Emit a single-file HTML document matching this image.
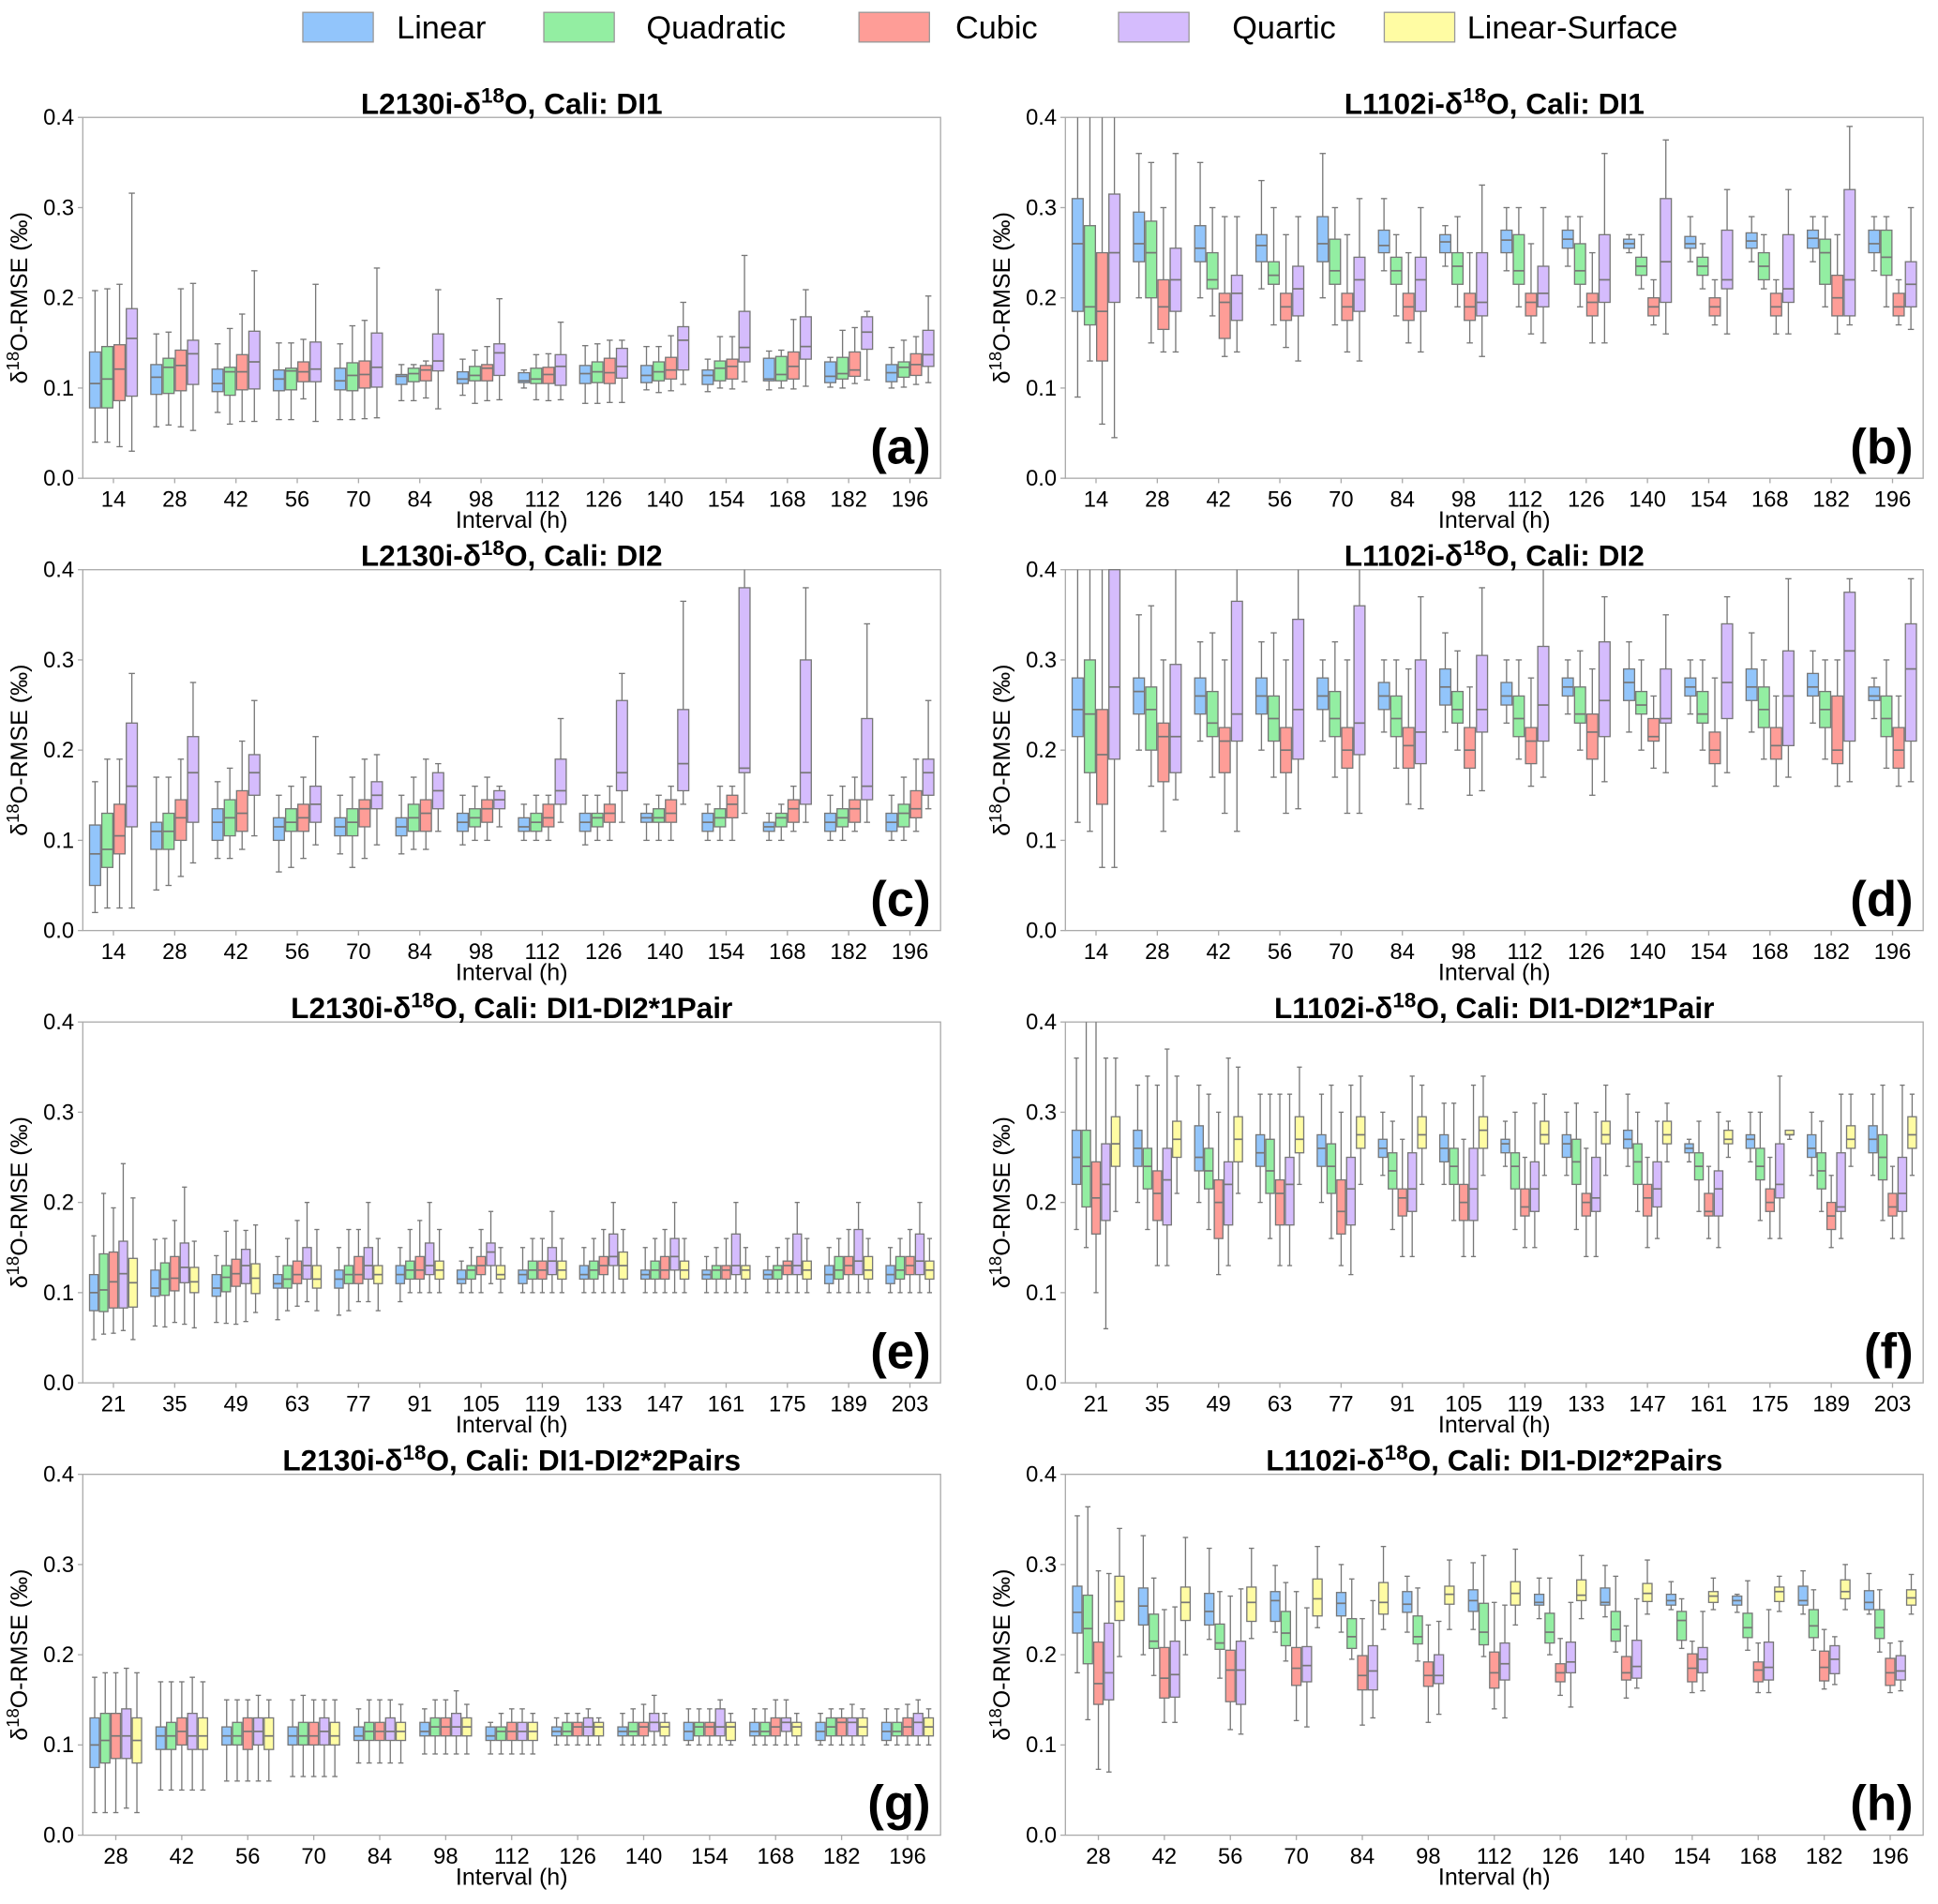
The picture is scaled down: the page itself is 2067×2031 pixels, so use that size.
<!DOCTYPE html>
<html><head><meta charset="utf-8"><style>
html,body{margin:0;padding:0;background:#fff}
svg{display:block}
text{font-family:"Liberation Sans",sans-serif}
</style></head><body>
<svg id="chart" xmlns="http://www.w3.org/2000/svg" width="2067" height="2031" viewBox="0 0 1568 1540.7" preserveAspectRatio="none">
<g id="legend">
<g><rect x="245" y="10" width="57" height="24" fill="#92c5fb" stroke="#999"/><text x="321" y="31" font-size="26">Linear</text></g>
<g><rect x="440" y="10" width="57" height="24" fill="#93eea2" stroke="#999"/><text x="523" y="31" font-size="26">Quadratic</text></g>
<g><rect x="695" y="10" width="57" height="24" fill="#fe9d97" stroke="#999"/><text x="773" y="31" font-size="26">Cubic</text></g>
<g><rect x="905" y="10" width="57" height="24" fill="#d5bcfd" stroke="#999"/><text x="997" y="31" font-size="26">Quartic</text></g>
<g><rect x="1120" y="10" width="57" height="24" fill="#fffca3" stroke="#999"/><text x="1187" y="31" font-size="26">Linear-Surface</text></g>
</g>
</svg>
<script>
const seriesColors = ["#92c5fb","#93eea2","#fe9d97","#d5bcfd","#fffca3"];
const yTicks = [0.0,0.1,0.2,0.3,0.4];
const cats14a = ["14","28","42","56","70","84","98","112","126","140","154","168","182","196"];
const cats14e = ["21","35","49","63","77","91","105","119","133","147","161","175","189","203"];
const cats13 = ["28","42","56","70","84","98","112","126","140","154","168","182","196"];

// panel a
const aMed=[[.105,.112,.105,.11,.108,.113,.11,.108,.116,.114,.114,.11,.113,.117],[.11,.123,.118,.119,.114,.116,.114,.11,.118,.118,.122,.115,.116,.123],[.121,.125,.118,.118,.115,.12,.122,.115,.117,.12,.124,.124,.12,.126],[.155,.138,.129,.121,.123,.13,.139,.124,.124,.153,.145,.146,.162,.137]];
const aQ1=[[.078,.093,.096,.097,.098,.104,.105,.106,.105,.106,.104,.108,.106,.107],[.078,.094,.092,.098,.097,.107,.108,.105,.106,.108,.108,.108,.11,.112],[.086,.097,.098,.107,.1,.108,.108,.105,.105,.11,.11,.11,.113,.114],[.091,.104,.099,.107,.101,.119,.114,.103,.111,.12,.129,.132,.143,.124]];
const aQ3=[[.14,.126,.121,.12,.122,.115,.118,.117,.125,.125,.12,.133,.129,.126],[.146,.133,.123,.122,.128,.122,.124,.122,.129,.129,.13,.135,.134,.129],[.148,.142,.137,.129,.13,.125,.126,.123,.133,.134,.132,.14,.14,.138],[.188,.153,.163,.151,.161,.16,.149,.137,.144,.168,.185,.179,.179,.164]];
const aLo=[[.04,.057,.073,.065,.065,.086,.092,.1,.083,.098,.096,.098,.101,.1],[.04,.059,.06,.065,.065,.086,.083,.087,.083,.095,.1,.1,.1,.101],[.035,.057,.063,.088,.066,.089,.086,.086,.084,.097,.099,.099,.105,.104],[.03,.053,.063,.063,.067,.077,.087,.087,.084,.104,.107,.102,.109,.106]];
const aHi=[[.208,.16,.149,.15,.149,.126,.132,.12,.147,.146,.132,.141,.134,.145],[.21,.162,.166,.15,.169,.126,.142,.137,.149,.146,.157,.142,.164,.153],[.215,.21,.182,.154,.175,.13,.146,.138,.153,.158,.157,.176,.167,.157],[.316,.216,.23,.215,.233,.209,.199,.173,.153,.195,.247,.209,.185,.202]];
// panel b
const bMed=[[.26,.26,.255,.258,.26,.258,.262,.264,.265,.26,.26,.263,.266,.26],[.19,.25,.22,.225,.23,.23,.235,.23,.23,.235,.235,.235,.25,.245],[.185,.19,.195,.19,.19,.19,.19,.195,.195,.19,.19,.19,.2,.19],[.25,.22,.205,.21,.22,.22,.195,.205,.22,.24,.22,.21,.22,.215]];
const bQ1=[[.185,.24,.24,.24,.24,.25,.25,.25,.255,.255,.255,.255,.255,.25],[.17,.2,.21,.215,.215,.215,.215,.215,.215,.225,.225,.22,.215,.225],[.13,.165,.155,.175,.175,.175,.175,.18,.18,.18,.18,.18,.18,.18],[.195,.185,.175,.18,.185,.185,.18,.19,.195,.195,.21,.195,.18,.19]];
const bQ3=[[.31,.295,.28,.27,.29,.275,.27,.275,.275,.265,.268,.272,.275,.275],[.28,.285,.25,.24,.265,.245,.25,.27,.26,.245,.245,.25,.265,.275],[.25,.22,.205,.205,.205,.205,.205,.205,.205,.2,.2,.205,.225,.205],[.315,.255,.225,.235,.245,.245,.25,.235,.27,.31,.275,.27,.32,.24]];
const bLo=[[.09,.2,.2,.21,.2,.23,.235,.23,.235,.25,.24,.24,.24,.23],[.13,.15,.18,.17,.17,.18,.19,.19,.19,.21,.21,.21,.19,.19],[.06,.14,.135,.145,.14,.15,.15,.16,.15,.17,.17,.16,.16,.17],[.045,.14,.14,.13,.13,.14,.135,.15,.15,.16,.16,.16,.17,.165]];
const bHi=[[.4,.36,.35,.33,.36,.31,.28,.3,.29,.27,.29,.29,.29,.29],[.4,.35,.3,.3,.3,.27,.29,.3,.29,.27,.26,.27,.29,.29],[.4,.3,.29,.27,.27,.25,.25,.26,.25,.22,.22,.22,.27,.22],[.4,.36,.29,.29,.31,.3,.325,.3,.36,.375,.32,.32,.39,.3]];
// panel c
const cMed=[[.085,.11,.12,.115,.115,.115,.12,.115,.12,.125,.12,.115,.12,.12],[.09,.11,.125,.12,.12,.125,.125,.12,.125,.125,.125,.125,.125,.13],[.105,.125,.13,.125,.135,.13,.135,.125,.13,.13,.14,.135,.135,.135],[.16,.175,.175,.14,.15,.155,.145,.155,.175,.185,.18,.175,.16,.175]];
const cQ1=[[.05,.09,.1,.1,.105,.105,.11,.11,.11,.12,.11,.11,.11,.11],[.07,.09,.105,.11,.105,.11,.115,.11,.115,.12,.115,.115,.115,.115],[.085,.1,.11,.11,.115,.11,.12,.115,.12,.12,.125,.12,.12,.125],[.115,.12,.15,.12,.135,.135,.135,.14,.155,.155,.175,.14,.145,.15]];
const cQ3=[[.117,.12,.135,.125,.125,.125,.13,.125,.13,.13,.13,.12,.13,.13],[.13,.13,.145,.135,.135,.14,.135,.13,.13,.135,.135,.13,.135,.14],[.14,.145,.155,.14,.145,.145,.145,.14,.14,.145,.15,.145,.145,.155],[.23,.215,.195,.16,.165,.175,.155,.19,.255,.245,.38,.3,.235,.19]];
const cLo=[[.02,.045,.08,.065,.085,.085,.095,.1,.095,.1,.1,.1,.1,.1],[.025,.05,.08,.07,.07,.09,.1,.1,.1,.1,.1,.1,.1,.1],[.025,.06,.09,.08,.08,.09,.1,.1,.1,.1,.1,.11,.11,.11],[.025,.075,.105,.095,.095,.11,.115,.12,.12,.14,.13,.12,.12,.135]];
const cHi=[[.165,.17,.165,.15,.15,.15,.15,.14,.15,.14,.14,.13,.15,.15],[.19,.17,.18,.16,.17,.17,.16,.15,.15,.15,.16,.14,.16,.17],[.19,.19,.21,.17,.19,.19,.17,.15,.16,.16,.16,.16,.17,.19],[.285,.275,.255,.215,.195,.185,.16,.235,.285,.365,.4,.38,.34,.255]];
// panel d
const dMed=[[.245,.265,.26,.26,.26,.26,.27,.26,.27,.275,.27,.27,.27,.26],[.24,.245,.23,.235,.235,.235,.245,.235,.24,.25,.24,.245,.245,.235],[.195,.215,.21,.2,.2,.205,.2,.21,.22,.215,.2,.205,.2,.2],[.27,.215,.24,.245,.23,.22,.245,.25,.255,.235,.275,.26,.31,.29]];
const dQ1=[[.215,.24,.24,.24,.245,.245,.25,.25,.26,.255,.26,.255,.26,.255],[.175,.2,.215,.21,.215,.215,.23,.215,.23,.24,.23,.225,.225,.215],[.14,.165,.175,.175,.18,.18,.18,.185,.19,.21,.185,.19,.185,.18],[.19,.175,.21,.19,.195,.185,.22,.21,.215,.23,.235,.205,.21,.21]];
const dQ3=[[.28,.28,.28,.28,.28,.275,.29,.275,.28,.29,.28,.29,.285,.27],[.3,.27,.265,.26,.265,.26,.265,.26,.27,.265,.265,.27,.265,.26],[.245,.23,.225,.225,.225,.225,.225,.225,.24,.235,.22,.225,.26,.225],[.4,.295,.365,.345,.36,.3,.305,.315,.32,.29,.34,.31,.375,.34]];
const dLo=[[.12,.2,.21,.2,.21,.22,.22,.23,.24,.22,.24,.22,.23,.235],[.11,.16,.17,.17,.17,.18,.2,.19,.2,.2,.2,.19,.19,.18],[.07,.11,.13,.13,.13,.14,.15,.16,.15,.18,.16,.16,.16,.16],[.07,.145,.11,.135,.13,.135,.155,.17,.165,.175,.175,.17,.165,.165]];
const dHi=[[.4,.35,.32,.32,.3,.3,.33,.3,.3,.32,.3,.33,.31,.28],[.4,.36,.33,.33,.32,.3,.31,.3,.31,.3,.3,.3,.3,.3],[.4,.3,.3,.3,.3,.29,.27,.28,.29,.26,.28,.26,.3,.26],[.4,.4,.4,.4,.4,.37,.38,.4,.37,.35,.37,.39,.39,.39]];
// panel e
const eMed=[[.1,.105,.105,.11,.115,.12,.115,.12,.12,.12,.12,.12,.12,.12],[.103,.115,.117,.115,.12,.125,.125,.125,.125,.125,.125,.125,.125,.125],[.112,.116,.121,.12,.12,.125,.13,.125,.13,.125,.125,.13,.13,.13],[.121,.128,.13,.13,.13,.13,.145,.135,.14,.14,.13,.13,.135,.135],[.111,.112,.116,.115,.12,.125,.12,.125,.13,.125,.125,.125,.125,.125]];
const eQ1=[[.08,.096,.096,.105,.105,.11,.11,.11,.115,.115,.115,.115,.11,.11],[.079,.097,.101,.105,.11,.115,.115,.115,.115,.115,.115,.115,.115,.115],[.083,.102,.107,.11,.11,.115,.12,.115,.12,.115,.115,.12,.12,.12],[.083,.111,.11,.115,.115,.12,.13,.12,.13,.125,.12,.12,.12,.12],[.084,.1,.099,.105,.11,.115,.115,.115,.115,.115,.115,.115,.115,.115]];
const eQ3=[[.12,.125,.12,.12,.125,.13,.125,.125,.13,.125,.125,.125,.13,.13],[.143,.133,.13,.13,.13,.135,.13,.135,.135,.135,.13,.13,.14,.14],[.145,.14,.137,.135,.14,.14,.14,.135,.14,.14,.13,.135,.14,.14],[.157,.155,.148,.15,.15,.155,.155,.15,.165,.16,.165,.165,.17,.165],[.138,.128,.132,.13,.13,.135,.13,.135,.145,.135,.13,.135,.14,.135]];
const eLo=[[.048,.063,.067,.07,.075,.09,.1,.1,.1,.1,.1,.1,.1,.1],[.054,.062,.066,.08,.08,.1,.1,.1,.1,.1,.1,.1,.1,.1],[.055,.067,.065,.085,.09,.1,.1,.1,.1,.1,.1,.1,.1,.1],[.058,.065,.068,.09,.09,.1,.11,.1,.1,.1,.1,.1,.1,.1],[.048,.061,.078,.08,.08,.1,.1,.1,.1,.1,.1,.1,.1,.1]];
const eHi=[[.163,.159,.141,.14,.15,.15,.135,.15,.15,.15,.14,.14,.15,.15],[.21,.16,.168,.16,.17,.17,.15,.16,.16,.16,.15,.15,.16,.16],[.194,.18,.18,.18,.17,.18,.17,.16,.17,.17,.16,.16,.17,.17],[.243,.217,.169,.2,.2,.2,.19,.19,.2,.2,.2,.2,.2,.2],[.205,.157,.175,.17,.16,.17,.15,.16,.17,.16,.15,.16,.16,.16]];
// panel f
const fMed=[[.25,.26,.25,.255,.26,.26,.26,.265,.265,.27,.26,.27,.26,.27],[.24,.24,.235,.235,.24,.235,.24,.24,.245,.245,.24,.24,.235,.25],[.205,.21,.2,.21,.19,.205,.2,.195,.2,.205,.19,.2,.185,.195],[.22,.225,.22,.22,.215,.215,.215,.215,.205,.215,.215,.22,.195,.21],[.265,.27,.27,.27,.275,.275,.28,.275,.275,.275,.27,.275,.27,.275]];
const fQ1=[[.22,.24,.235,.24,.24,.25,.245,.255,.25,.26,.255,.26,.25,.255],[.195,.215,.215,.21,.21,.215,.22,.215,.22,.22,.225,.225,.215,.225],[.165,.18,.16,.175,.165,.185,.18,.185,.185,.185,.185,.19,.17,.185],[.18,.175,.175,.175,.175,.19,.18,.19,.19,.195,.185,.205,.19,.19],[.24,.25,.245,.255,.26,.26,.26,.265,.265,.265,.265,.275,.26,.26]];
const fQ3=[[.28,.28,.285,.275,.275,.27,.275,.27,.275,.28,.265,.275,.275,.285],[.28,.26,.26,.27,.265,.255,.26,.255,.27,.265,.255,.26,.255,.275],[.245,.235,.225,.225,.225,.215,.22,.215,.21,.22,.21,.215,.2,.21],[.265,.26,.245,.25,.25,.255,.26,.245,.25,.245,.235,.265,.255,.25],[.295,.29,.295,.295,.295,.295,.295,.29,.29,.29,.28,.28,.285,.295]];
const fLo=[[.17,.2,.2,.2,.2,.23,.22,.24,.23,.24,.245,.245,.23,.23],[.15,.17,.17,.16,.16,.17,.18,.17,.17,.19,.19,.18,.19,.18],[.1,.13,.12,.13,.13,.14,.14,.15,.14,.15,.16,.16,.15,.16],[.06,.13,.13,.13,.12,.14,.14,.15,.14,.16,.15,.16,.16,.16],[.19,.21,.21,.22,.22,.22,.23,.23,.23,.245,.25,.27,.24,.23]];
const fHi=[[.36,.33,.33,.32,.32,.3,.31,.29,.3,.32,.27,.3,.3,.32],[.4,.34,.32,.32,.33,.29,.31,.3,.31,.3,.29,.3,.29,.33],[.4,.33,.3,.32,.3,.27,.27,.25,.26,.25,.24,.25,.23,.24],[.36,.37,.36,.32,.33,.34,.33,.31,.3,.29,.3,.34,.32,.33],[.36,.34,.35,.35,.34,.33,.34,.32,.33,.31,.29,.28,.32,.32]];
// panel g
const gMed=[[.1,.11,.11,.11,.11,.115,.11,.115,.115,.115,.115,.115,.115],[.105,.11,.11,.11,.115,.12,.115,.115,.115,.12,.115,.12,.115],[.11,.115,.115,.11,.115,.12,.115,.12,.12,.12,.12,.125,.12],[.11,.11,.115,.115,.115,.12,.115,.12,.125,.12,.125,.125,.125],[.105,.11,.11,.11,.115,.12,.115,.12,.12,.12,.12,.12,.12]];
const gQ1=[[.075,.095,.1,.1,.105,.11,.105,.11,.11,.105,.11,.105,.105],[.08,.095,.1,.1,.105,.11,.105,.11,.11,.11,.11,.11,.11],[.085,.1,.095,.1,.105,.11,.105,.11,.11,.11,.11,.11,.11],[.085,.095,.1,.1,.105,.11,.105,.11,.115,.11,.115,.11,.11],[.08,.095,.095,.1,.105,.11,.105,.11,.11,.105,.11,.11,.11]];
const gQ3=[[.13,.12,.12,.12,.12,.125,.12,.12,.12,.125,.125,.125,.125],[.135,.125,.125,.125,.125,.13,.12,.125,.125,.125,.125,.13,.125],[.135,.13,.13,.125,.125,.13,.125,.125,.125,.125,.13,.13,.13],[.14,.135,.13,.13,.13,.135,.125,.13,.135,.14,.13,.13,.135],[.13,.13,.13,.125,.125,.13,.125,.125,.125,.125,.125,.13,.13]];
const gLo=[[.025,.05,.06,.065,.08,.09,.09,.1,.1,.1,.1,.1,.1],[.025,.05,.06,.065,.08,.09,.09,.1,.1,.1,.1,.1,.1],[.025,.05,.06,.065,.08,.09,.09,.1,.1,.1,.1,.1,.1],[.03,.05,.06,.065,.08,.09,.09,.1,.1,.1,.1,.1,.1],[.025,.05,.06,.065,.08,.09,.09,.1,.1,.1,.1,.1,.1]];
const gHi=[[.175,.17,.15,.15,.14,.14,.125,.13,.135,.14,.14,.135,.14],[.18,.17,.15,.155,.15,.15,.135,.135,.14,.14,.14,.14,.14],[.18,.17,.15,.15,.15,.15,.14,.135,.145,.14,.15,.14,.145],[.185,.175,.155,.15,.15,.16,.14,.14,.155,.15,.15,.145,.15],[.18,.17,.15,.15,.145,.145,.135,.13,.135,.135,.135,.14,.14]];
// panel h
const hMed=[[.247,.254,.248,.26,.257,.256,.26,.258,.258,.26,.26,.26,.258],[.229,.215,.213,.224,.22,.22,.225,.225,.228,.238,.23,.232,.23],[.168,.174,.183,.185,.177,.177,.18,.18,.18,.185,.183,.186,.18],[.18,.178,.183,.188,.182,.177,.19,.192,.187,.195,.186,.195,.182],[.259,.258,.258,.262,.258,.267,.268,.266,.268,.265,.27,.27,.263]];
const hQ1=[[.224,.233,.233,.237,.243,.247,.248,.255,.255,.255,.255,.255,.25],[.19,.207,.206,.21,.207,.212,.211,.213,.215,.216,.219,.219,.218],[.145,.152,.148,.166,.161,.165,.163,.17,.172,.17,.17,.171,.166],[.15,.153,.145,.17,.161,.168,.172,.18,.174,.18,.172,.179,.172],[.238,.238,.237,.243,.245,.256,.255,.26,.259,.258,.259,.262,.255]];
const hQ3=[[.276,.274,.268,.27,.269,.27,.272,.267,.274,.267,.265,.276,.271],[.266,.245,.234,.248,.24,.243,.257,.246,.248,.248,.246,.25,.25],[.214,.208,.205,.208,.199,.192,.203,.19,.198,.201,.192,.204,.196],[.235,.215,.215,.209,.21,.2,.213,.214,.216,.208,.214,.21,.199],[.287,.275,.275,.284,.28,.276,.281,.283,.279,.27,.275,.283,.272]];
const hLo=[[.18,.2,.217,.225,.225,.225,.228,.24,.242,.25,.247,.245,.245],[.128,.177,.174,.193,.195,.193,.198,.2,.203,.207,.205,.205,.203],[.073,.125,.117,.127,.122,.125,.14,.155,.152,.158,.158,.162,.158],[.07,.125,.112,.12,.13,.134,.13,.142,.163,.16,.158,.167,.16],[.198,.2,.218,.23,.228,.228,.233,.24,.245,.25,.248,.25,.245]];
const hHi=[[.354,.332,.318,.299,.3,.287,.302,.285,.299,.281,.267,.293,.29],[.364,.285,.27,.28,.284,.274,.31,.285,.287,.262,.282,.272,.272],[.293,.25,.265,.27,.24,.233,.258,.218,.232,.215,.213,.228,.213],[.29,.253,.273,.252,.26,.237,.255,.258,.262,.248,.25,.22,.215],[.34,.33,.318,.32,.32,.305,.317,.31,.305,.285,.287,.3,.289]];

const NS="http://www.w3.org/2000/svg";
const svg=document.getElementById('chart');
function mk(tag,attrs,parent){const e=document.createElementNS(NS,tag);for(const k in attrs)e.setAttribute(k,attrs[k]);(parent||svg).appendChild(e);return e;}

const panels=[
 {id:'a',x0:67,x1:761,y0:95,title:'L2130i-',suffix:', Cali: DI1',cats:cats14a,med:aMed,q1:aQ1,q3:aQ3,lo:aLo,hi:aHi},
 {id:'b',x0:862,x1:1556,y0:95,title:'L1102i-',suffix:', Cali: DI1',cats:cats14a,med:bMed,q1:bQ1,q3:bQ3,lo:bLo,hi:bHi},
 {id:'c',x0:67,x1:761,y0:461,title:'L2130i-',suffix:', Cali: DI2',cats:cats14a,med:cMed,q1:cQ1,q3:cQ3,lo:cLo,hi:cHi},
 {id:'d',x0:862,x1:1556,y0:461,title:'L1102i-',suffix:', Cali: DI2',cats:cats14a,med:dMed,q1:dQ1,q3:dQ3,lo:dLo,hi:dHi},
 {id:'e',x0:67,x1:761,y0:827,title:'L2130i-',suffix:', Cali: DI1-DI2*1Pair',cats:cats14e,med:eMed,q1:eQ1,q3:eQ3,lo:eLo,hi:eHi},
 {id:'f',x0:862,x1:1556,y0:827,title:'L1102i-',suffix:', Cali: DI1-DI2*1Pair',cats:cats14e,med:fMed,q1:fQ1,q3:fQ3,lo:fLo,hi:fHi},
 {id:'g',x0:67,x1:761,y0:1193,title:'L2130i-',suffix:', Cali: DI1-DI2*2Pairs',cats:cats13,med:gMed,q1:gQ1,q3:gQ3,lo:gLo,hi:gHi},
 {id:'h',x0:862,x1:1556,y0:1193,title:'L1102i-',suffix:', Cali: DI1-DI2*2Pairs',cats:cats13,med:hMed,q1:hQ1,q3:hQ3,lo:hLo,hi:hHi}
];
const H=292;
panels.forEach(p=>{
  const g=mk('g',{});
  
  
  const y=v=>p.y0+H-(v/0.4)*H;
  const n=p.cats.length, gw=(p.x1-p.x0)/n;
  const xc=i=>p.x0+gw*(i+0.5);
  const fr=mk('rect',{x:p.x0,y:p.y0,width:p.x1-p.x0,height:H,fill:'none',stroke:'#aaa','stroke-width':1},g);
  
  
  const t=mk('text',{x:(p.x0+p.x1)/2,y:p.y0-3,'text-anchor':'middle','font-size':24,'font-weight':'bold'},g);
  
  
  t.innerHTML=p.title+'δ<tspan dy="-9" font-size="17">18</tspan><tspan dy="9">O'+p.suffix+'</tspan>';
  yTicks.forEach(v=>{
    mk('line',{x1:p.x0-4,x2:p.x0,y1:y(v),y2:y(v),stroke:'#aaa'},g);
    const tl=mk('text',{x:p.x0-7,y:y(v)+6,'text-anchor':'end','font-size':18},g);
    
    
    tl.textContent=v.toFixed(1);
  });
  const yl=mk('text',{transform:`translate(${p.x0-45},${p.y0+H/2}) rotate(-90)`,'text-anchor':'middle','font-size':19},g);
  
  
  yl.innerHTML='δ<tspan dy="-7" font-size="14">18</tspan><tspan dy="7">O-RMSE (‰)</tspan>';
  p.cats.forEach((c,i)=>{
    mk('line',{x1:xc(i),x2:xc(i),y1:p.y0+H,y2:p.y0+H+4,stroke:'#aaa'},g);
    const tl=mk('text',{x:xc(i),y:p.y0+H+23,'text-anchor':'middle','font-size':18},g);
    
    
    tl.textContent=c;
  });
  const xl=mk('text',{x:(p.x0+p.x1)/2,y:p.y0+H+40,'text-anchor':'middle','font-size':19},g);
  
  
  xl.textContent='Interval (h)';
  const pl=mk('text',{x:p.x1-8,y:p.y0+H-12,'text-anchor':'end','font-size':40,'font-weight':'bold'},g);
  
  
  pl.textContent='('+p.id+')';
  const ns=p.med.length, bw=gw*0.8/ns;
  for(let s=0;s<ns;s++){
    for(let i=0;i<n;i++){
      const cx=xc(i)-gw*0.4+bw*(s+0.5);
      const bg=mk('g',{},g);
      
      
      const hi=Math.min(p.hi[s][i],0.4);
      mk('line',{x1:cx,x2:cx,y1:y(p.lo[s][i]),y2:y(p.q1[s][i]),stroke:'#777','stroke-width':1},bg);
      mk('line',{x1:cx,x2:cx,y1:y(p.q3[s][i]),y2:y(hi),stroke:'#777','stroke-width':1},bg);
      mk('line',{x1:cx-bw*0.25,x2:cx+bw*0.25,y1:y(p.lo[s][i]),y2:y(p.lo[s][i]),stroke:'#777'},bg);
      if(p.hi[s][i]<0.4) mk('line',{x1:cx-bw*0.25,x2:cx+bw*0.25,y1:y(hi),y2:y(hi),stroke:'#777'},bg);
      const top=Math.min(p.q3[s][i],0.4);
      mk('rect',{x:cx-bw/2+0.5,y:y(top),width:bw-1,height:Math.max(0.5,y(p.q1[s][i])-y(top)),fill:seriesColors[s],stroke:'#777','stroke-width':1},bg);
      mk('line',{x1:cx-bw/2+0.5,x2:cx+bw/2-0.5,y1:y(p.med[s][i]),y2:y(p.med[s][i]),stroke:'#777','stroke-width':1.3},bg);
    }
  }
});
</script>
</body></html>
